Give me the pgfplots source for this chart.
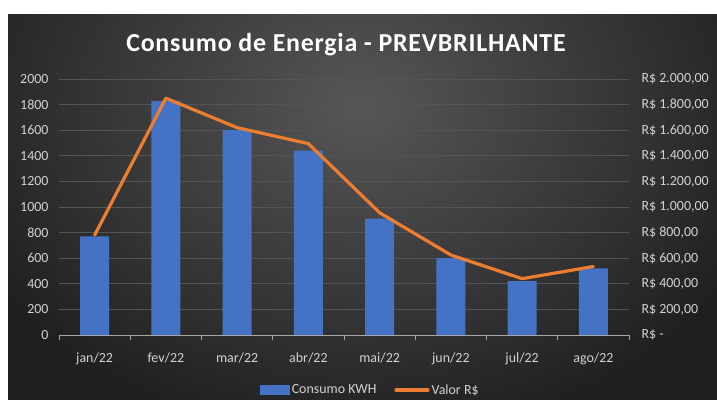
\documentclass[border=0pt]{standalone}
\usepackage{fontspec}
\setmainfont{Carlito}
\usepackage{pgfplots}
\pgfplotsset{compat=1.18}
\definecolor{barblue}{HTML}{4472C4}
\definecolor{lineor}{HTML}{ED7D31}
\definecolor{txt}{HTML}{D2D2D2}
\definecolor{grd}{HTML}{545454}
\definecolor{axl}{HTML}{A6A6A6}
\pgfplotstableread{
x kwh valor
0 770 780
1 1830 1850
2 1600 1620
3 1440 1495
4 910 955
5 600 625
6 420 440
7 520 535
}\datatab
\begin{document}
\begin{tikzpicture}
\useasboundingbox (0,0) rectangle (717bp,407bp);
\fill[white] (0,0) rectangle (717bp,407bp);
\begin{scope}
\clip (8bp,7bp) rectangle (717bp,392bp);
\shade[inner color=black!66, outer color=black!88] (-80bp,-40bp) rectangle (800bp,640bp);
\end{scope}
\node[anchor=base, text=white, font=\fontsize{26}{30}\selectfont\bfseries\addfontfeature{LetterSpace=3}] at (346bp,355bp) {Consumo de Energia - PREVBRILHANTE};
\begin{axis}[
  at={(59bp,72bp)}, anchor=south west,
  scale only axis, width=570bp, height=256bp,
  xmin=-0.5, xmax=7.5, ymin=0, ymax=2000,
  axis x line*=bottom, axis y line*=left,
  y axis line style={draw=none},
  x axis line style={draw=axl, line width=1bp, -},
  ytick={0,200,...,2000},
  ytick style={draw=none},
  xtick={0,...,7},
  xticklabels={jan/22,fev/22,mar/22,abr/22,mai/22,jun/22,jul/22,ago/22},
  minor xtick={-0.5,0.5,...,7.5},
  major x tick style={draw=none},
  minor x tick style={draw=axl, line width=1bp},
  minor tick length=5bp,
  xtick align=outside,
  ymajorgrids, grid style={draw=grd, line width=0.8bp},
  scaled y ticks=false,
  /pgf/number format/1000 sep={},
  /pgf/number format/assume math mode=true,
  ticklabel style={font=\fontsize{14}{16}\selectfont, text=txt},
  yticklabel style={xshift=-7bp},
  xticklabel style={yshift=-10bp},
  legend style={at={(0.546,-0.215)}, anchor=center, draw=none, fill=none,
    text=txt, font=\fontsize{14}{16}\selectfont, legend columns=2,
    /tikz/every even column/.append style={column sep=16bp}},
  legend cell align=left,
]
\addplot[ybar, bar width=29bp, fill=barblue, draw=none,
  legend image code/.code={\fill[barblue] (0bp,-5bp) rectangle (30bp,5bp);}]
  table[x=x, y=kwh] {\datatab};
\addlegendentry{Consumo KWH}
\addplot[lineor, line width=3.2bp, line join=round, line cap=round, mark=none,
  legend image code/.code={\draw[lineor, line width=3.2bp] (0bp,0bp) -- (32bp,0bp);}]
  table[x=x, y=valor] {\datatab};
\addlegendentry{Valor R\$}
\end{axis}
\begin{axis}[
  at={(59bp,72bp)}, anchor=south west,
  scale only axis, width=570bp, height=256bp,
  xmin=-0.5, xmax=7.5, ymin=0, ymax=2000,
  axis x line=none, axis y line*=right,
  y axis line style={draw=none},
  ytick={0,200,...,2000},
  ytick style={draw=none},
  yticklabels={{R\$ -},{R\$ 200,00},{R\$ 400,00},{R\$ 600,00},{R\$ 800,00},{R\$ 1.000,00},{R\$ 1.200,00},{R\$ 1.400,00},{R\$ 1.600,00},{R\$ 1.800,00},{R\$ 2.000,00}},
  yticklabel style={font=\fontsize{14}{16}\selectfont, text=txt, anchor=west, xshift=9bp},
]
\addplot[draw=none] coordinates {(0,0)};
\end{axis}
\end{tikzpicture}
\end{document}
